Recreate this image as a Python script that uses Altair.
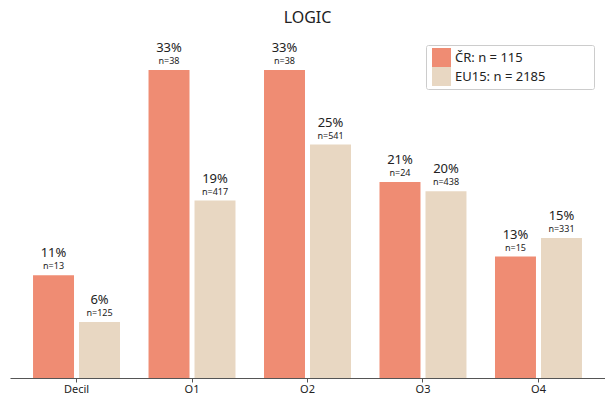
import altair as alt
import pandas as pd

groups = ["Decil", "O1", "O2", "O3", "O4"]
series = ["ČR: n = 115", "EU15: n = 2185"]
cr_pct = [11, 33, 33, 21, 13]
cr_n = [13, 38, 38, 24, 15]
eu_pct = [6, 19, 25, 20, 15]
eu_n = [125, 417, 541, 438, 331]
colors = ["#EF8C73", "#E8D7C2"]

rows = []
for i, g in enumerate(groups):
    rows.append({"group": g, "series": series[0], "pct": cr_pct[i],
                 "plabel": f"{cr_pct[i]}%", "nlabel": f"n={cr_n[i]}"})
    rows.append({"group": g, "series": series[1], "pct": eu_pct[i],
                 "plabel": f"{eu_pct[i]}%", "nlabel": f"n={eu_n[i]}"})
df = pd.DataFrame(rows)

FONT = "Noto Sans"

x = alt.X("group:N", sort=groups, title=None,
          scale=alt.Scale(paddingInner=0, paddingOuter=0.076),
          axis=alt.Axis(labelAngle=0, labelFontSize=11, labelColor="#222222",
                        labelFont=FONT, domainColor="#555555", tickColor="#555555",
                        tickSize=4, labelPadding=1, domainWidth=1.2))
xo = alt.XOffset("series:N", sort=series,
                 scale=alt.Scale(paddingInner=0.109, paddingOuter=0.31))
y = alt.Y("pct:Q", scale=alt.Scale(domain=[0, 36.2], nice=False), axis=None)

base = alt.Chart(df).encode(x=x, xOffset=xo, y=y)

bars = base.mark_bar().encode(
    color=alt.Color("series:N", sort=series,
                    scale=alt.Scale(domain=series, range=colors),
                    legend=alt.Legend(title=None, orient="none", legendX=416, legendY=5,
                                      symbolType="square", symbolSize=361,
                                      symbolStrokeWidth=0, labelFontSize=13,
                                      labelFont=FONT, labelColor="#222222",
                                      labelExpr="datum.label + '\u2003\u2003\u2003\u2002\u200b'",
                                      rowPadding=0, padding=3, strokeColor="#cccccc",
                                      fillColor="white", cornerRadius=2,
                                      labelLimit=300, symbolOffset=3))
)

ptext = base.mark_text(dy=-18, baseline="alphabetic", fontSize=13, font=FONT,
                       color="#222222").encode(text="plabel:N")
ntext = base.mark_text(dy=-6, baseline="alphabetic", fontSize=9, font=FONT,
                       color="#222222").encode(text="nlabel:N")

chart = (bars + ptext + ntext).properties(
    width=595, height=338,
    title=alt.TitleParams("LOGIC", fontSize=16, font=FONT, fontWeight="normal",
                          color="#222222", anchor="middle", offset=14),
    padding={"left": 10, "top": 10, "right": 0, "bottom": 0},
).configure_view(strokeWidth=0)

chart.save("out.html", embed_options={"renderer": "svg", "actions": False})
